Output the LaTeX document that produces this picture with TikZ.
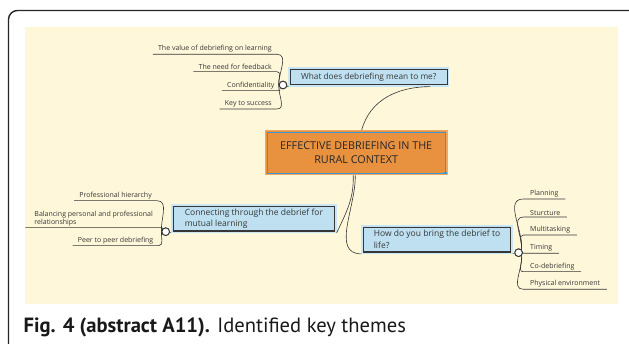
\documentclass[tikz,border=0pt]{standalone}
\usepackage{fontspec}
\setmainfont{PT Sans}
\newfontfamily\hand{Open Sans}
\definecolor{cream}{RGB}{254,247,218}
\definecolor{bubblefill}{RGB}{190,224,241}
\definecolor{orangebox}{RGB}{232,146,64}
\definecolor{inkline}{RGB}{55,55,55}
\definecolor{blueline}{RGB}{60,150,210}
\begin{document}
\begin{tikzpicture}[x=1pt,y=-1pt,
  link/.style={draw=inkline, line width=0.6pt},
  leaf/.style={font=\hand\fontsize{7}{7.4}\selectfont, text=inkline, inner xsep=5pt, inner ysep=1.5pt},
  bubble/.style={fill=bubblefill, draw=bubblefill!80!white, line width=1.2pt, text=inkline,
    font=\hand\fontsize{8.5}{11.4}\selectfont, inner ysep=2pt},
  hub/.style={circle, draw=inkline, fill=white, line width=0.9pt, minimum size=7.6pt, inner sep=0pt},
  centerbox/.style={fill=orangebox, draw=orangebox!80!white, line width=1.2pt, text=black!85,
    font=\hand\fontsize{10.8}{13.5}\selectfont, align=center, minimum width=181.5pt, minimum height=44pt},
  innerline/.style={draw=inkline, line width=0.55pt}
]
\useasboundingbox (0,0) rectangle (629,344);
% outer frame and background
\draw[line width=1.4pt, draw=black!85, rounded corners=9pt] (8.5,10.5) rectangle (640,356);
\fill[cream] (25,27) rectangle (618,304);

% central node
\node[centerbox] (ctr) at (356.2,152.7) {EFFECTIVE DEBRIEFING IN THE\\RURAL CONTEXT};
\draw[draw=blueline, line width=0.6pt] ([shift={(2,2)}]ctr.north west) rectangle ([shift={(-2,-2)}]ctr.south east);
\fill[blueline] ([shift={(-3.2,-3.2)}]ctr.south east) rectangle ([shift={(-1,-1)}]ctr.south east);

% main bubbles
\node[bubble, font=\hand\fontsize{8.3}{11}\selectfont, minimum width=159.5pt, minimum height=18.3pt] (top) at (368.8,76.9) {What does debriefing mean to me?};
\node[bubble, align=left, minimum width=164.3pt, minimum height=27.3pt] (left) at (253.9,218.7) {Connecting through the debrief for\\mutual learning};
\node[bubble, align=left, minimum width=150pt, minimum height=27.6pt] (right) at (437,239.5) {How do you bring the debrief to\\life?};
\foreach \n in {top,left,right}{
  \draw[innerline] ([shift={(2,2)}]\n.north west) rectangle ([shift={(-2,-2)}]\n.south east);
  \draw[draw=inkline, line width=1pt] ([shift={(2,-2)}]\n.south west) -- ([shift={(-2,-2)}]\n.south east);
}

% hubs
\node[hub] (c1) at (283,85) {};
\node[hub] (c2) at (165.7,231.7) {};
\node[hub] (c3) at (518.6,252.7) {};

% leaves, top-left group
\node[leaf, anchor=south east] (a1) at (277,54.3) {The value of debriefing on learning};
\node[leaf, anchor=south east] (a2) at (277,71.7) {The need for feedback};
\node[leaf, anchor=south east] (a3) at (279.6,90.7) {Confidentiality};
\node[leaf, anchor=south east] (a4) at (277,109) {Key to success};

% leaves, bottom-left group
\node[leaf, anchor=south east] (b1) at (157,200.7) {Professional hierarchy};
\node[leaf, anchor=south east, align=left, inner xsep=9pt] (b2) at (162,227.7) {Balancing personal and professional\\relationships};
\node[leaf, anchor=south east] (b3) at (158.5,245.7) {Peer to peer debriefing};

% leaves, right group
\node[leaf, anchor=south west, inner xsep=6.5pt] (r1) at (523.5,199) {Planning};
\node[leaf, anchor=south west, inner xsep=6.5pt] (r2) at (523.5,217) {Sturcture};
\node[leaf, anchor=south west, inner xsep=6.5pt] (r3) at (523.5,235) {Multitasking};
\node[leaf, anchor=south west, inner xsep=6.5pt] (r4) at (523.5,253.3) {Timing};
\node[leaf, anchor=south west, inner xsep=6.5pt] (r5) at (523.5,271.7) {Co-debriefing};
\node[leaf, anchor=south west, inner xsep=6.5pt] (r6) at (523.5,289.3) {Physical environment};

% main connectors
\draw[link] ([xshift=5.5pt]ctr.north) to[out=75,in=180] ([xshift=-19pt]top.south east);
\draw[link] ([xshift=-3pt]ctr.south) to[out=-88,in=65] (left.south east);
\draw[link] ([xshift=-1pt]ctr.south) to[out=-88,in=180] (right.south west);
\draw[link] (top.south west) -- (c1);
\draw[link] (left.south west) -- (c2);
\draw[link] (right.south east) -- (c3);

% leaf connectors
\draw[link] (a1.south west) -- (a1.south east) to[out=0,in=92] (c1.west);
\draw[link] (a2.south west) -- (a2.south east) to[out=0,in=100] (c1.west);
\draw[link] (a3.south west) -- (a3.south east) to[out=0,in=-140] (c1.south west);
\draw[link] (a4.south west) -- (a4.south east) to[out=0,in=-95] (c1.west);

\draw[link] (b1.south west) -- (b1.south east) to[out=0,in=95] (c2.west);
\draw[link] (b2.south west) -- (b2.south east) to[out=0,in=120] (c2.north west);
\draw[link] (b3.south west) -- (b3.south east) to[out=0,in=-95] (c2.west);

\draw[link] (r1.south east) -- (r1.south west) to[out=180,in=85] (c3.north east);
\draw[link] (r2.south east) -- (r2.south west) to[out=180,in=85] (c3.north east);
\draw[link] (r3.south east) -- (r3.south west) to[out=180,in=80] (c3.north east);
\draw[link] (r4.south east) -- (r4.south west) -- (c3.east);
\draw[link] (r5.south east) -- (r5.south west) to[out=180,in=-80] (c3.south east);
\draw[link] (r6.south east) -- (r6.south west) to[out=180,in=-85] (c3.south east);

% redraw hubs on top
\node[hub] at (c1) {};
\node[hub] at (c2) {};
\node[hub] at (c3) {};

% caption
\node[anchor=base west, inner sep=0pt, font=\fontsize{20.6}{24}\selectfont, text=black!90] (cap) at (23.5,333)
  {\textbf{Fig. 4 (abstract A11).} Identified key themes};
\end{tikzpicture}
\end{document}
